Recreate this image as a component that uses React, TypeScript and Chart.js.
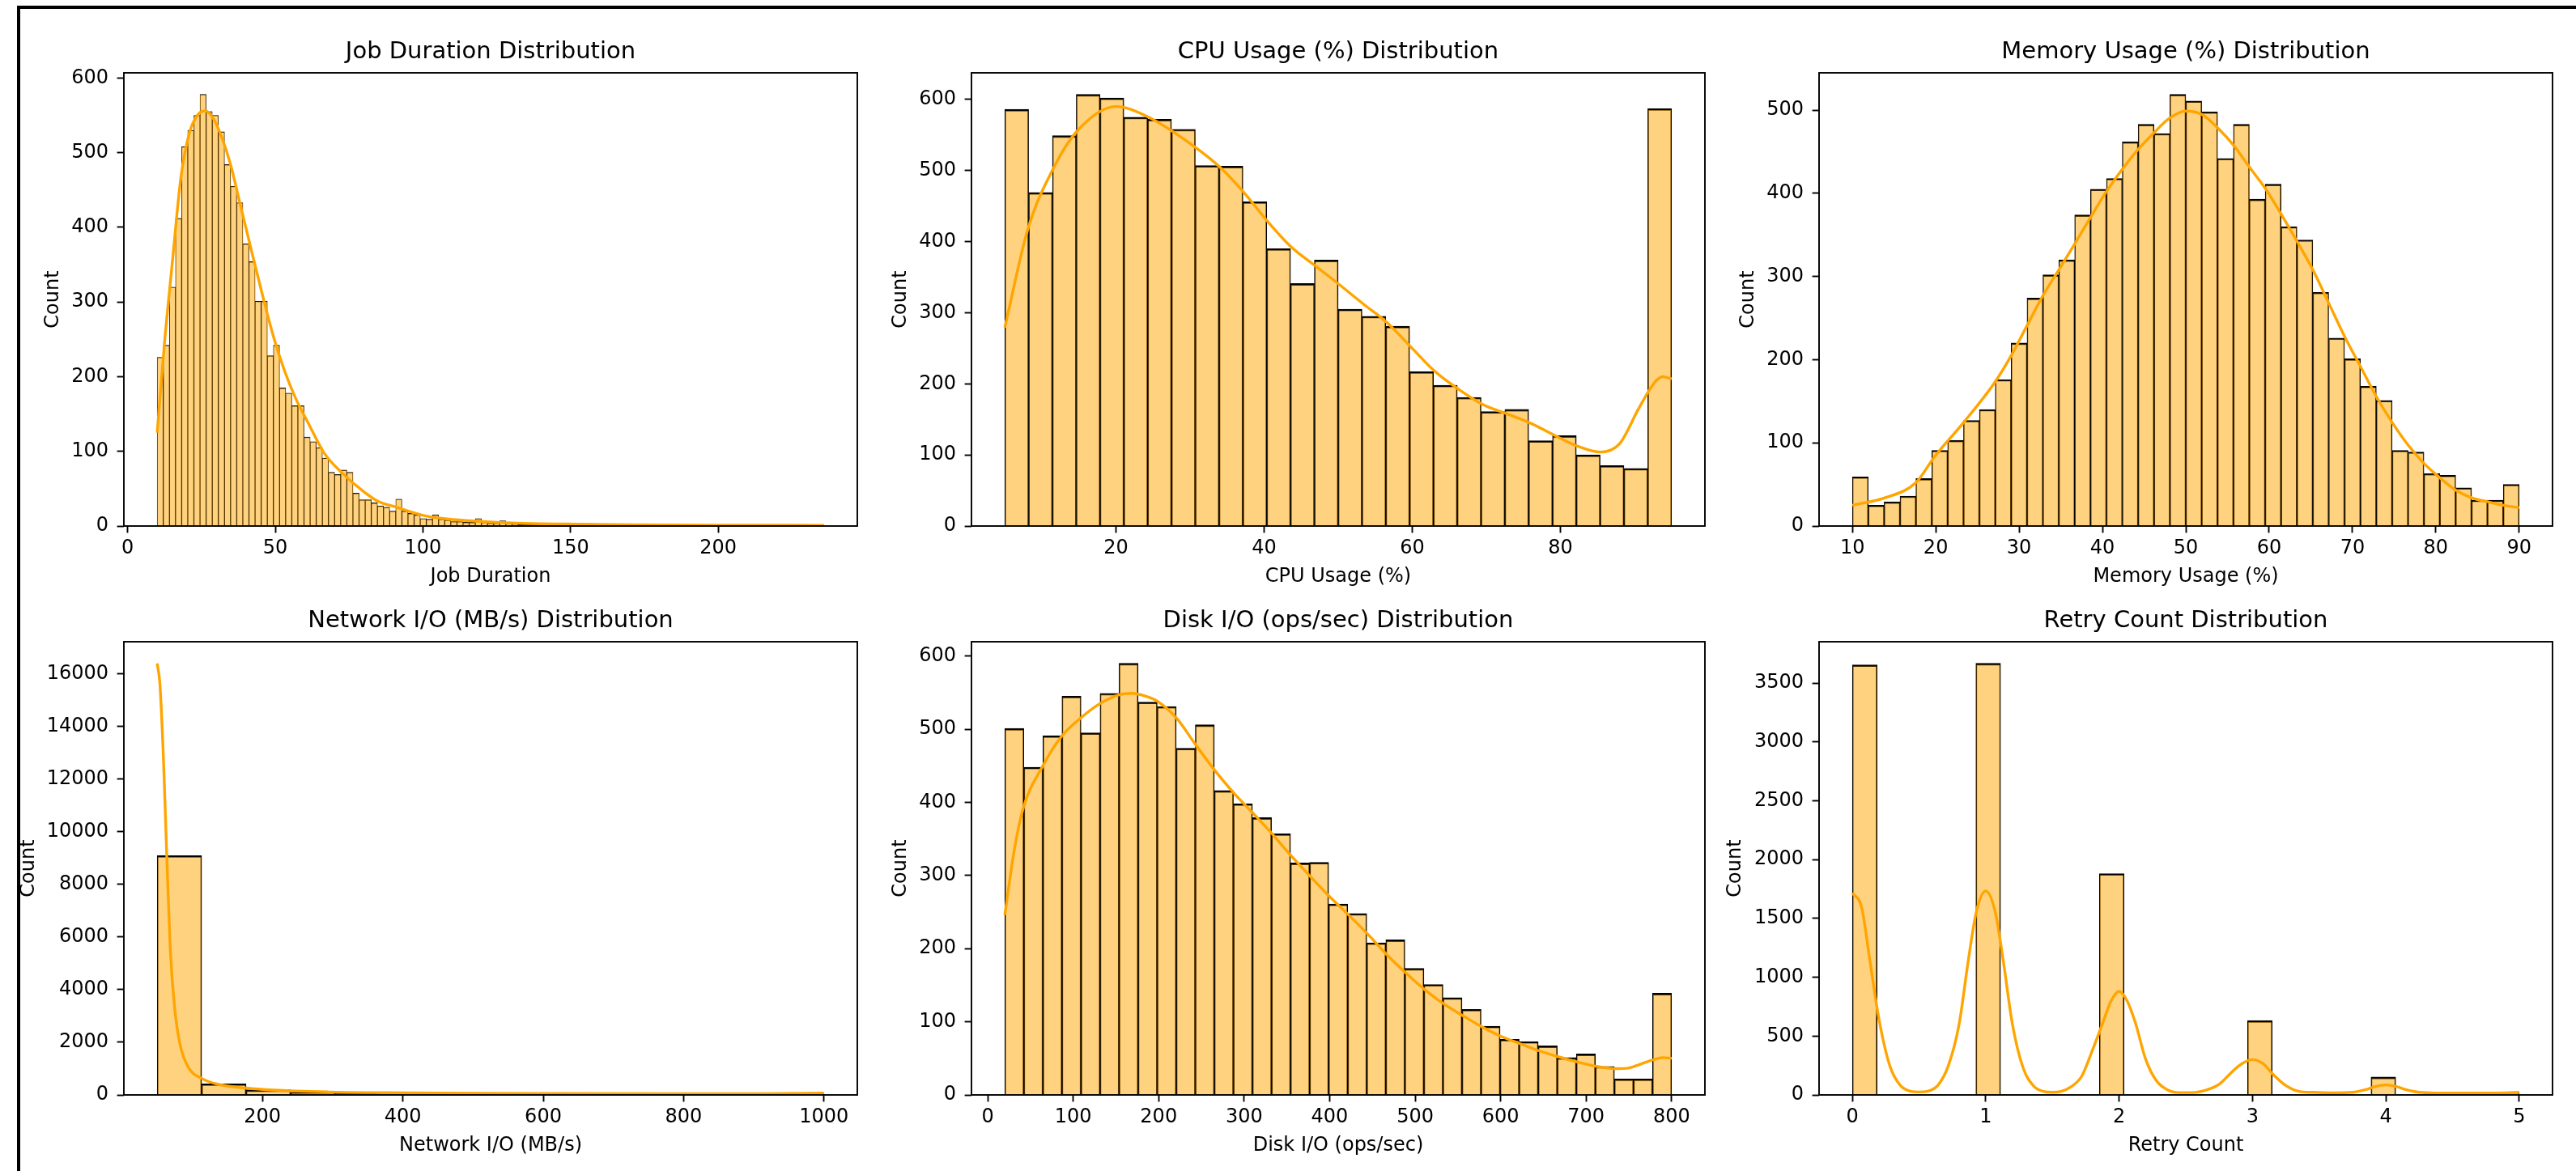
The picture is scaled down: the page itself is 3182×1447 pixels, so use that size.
import React, { useEffect, useRef } from "react";
import { Chart, registerables } from "chart.js";

Chart.register(...registerables);

const FONT = "'DejaVu Sans', 'Liberation Sans', sans-serif";

// ---------------- Job Duration ----------------
const JOB_BIN_RANGE = [10, 235.8];
const JOB_COUNTS = [
  226, 242, 320, 412, 508, 530, 550, 578, 555, 550, 528, 484, 455, 433, 378, 354, 301, 301, 228, 242, 185, 178, 161, 161,
  119, 113, 105, 91, 72, 69, 75, 72, 44, 35, 35, 31, 27, 25, 20, 36, 20, 17, 15, 10, 9, 15, 9, 8, 6, 6, 5, 5, 10, 5, 4, 4, 7, 4, 3, 2, 2, 2,
  2, 4, 2, 1, 1, 2, 1, 1, 3, 2, 1, 1, 0, 1, 1, 0, 1, 0, 1, 2, 0, 1, 0, 0, 1, 0, 1, 0, 0, 1, 0, 0, 0, 1, 0, 0, 0, 0, 0, 0, 0, 1, 0, 0, 0, 0, 1,
];
const JOB_KDE_X = [10, 12.4, 15.2, 18, 20.8, 23.6, 26.3, 29.1, 31.9, 34.7, 38.4, 42.1, 45.8, 49.5, 53.2, 57, 61, 66.5, 72.9, 79.3, 84.8, 91.2, 95.8, 100.4, 106.8, 116, 125, 134.3, 152.6, 170.9, 198, 235.8];
const JOB_KDE_Y = [125, 242, 356, 466, 525, 550, 556, 545, 520, 486, 426, 366, 307, 252, 207, 170, 139, 98, 70, 48, 33, 25, 19, 14, 10, 7, 5, 3.6, 2.5, 1.8, 1.2, 1];
const JOB_X_TICKS = [0, 50, 100, 150, 200];
const JOB_Y_TICKS = [0, 100, 200, 300, 400, 500, 600];

// ---------------- CPU Usage ----------------
const CPU_BIN_RANGE = [5, 95];
const CPU_COUNTS = [586, 469, 549, 607, 602, 575, 572, 558, 507, 506, 456, 390, 341, 374, 305, 295, 281, 217, 198, 181, 161, 164, 120, 127, 100, 85, 81, 587];
const CPU_KDE_X = [5, 8.1, 11.7, 14.8, 20, 24.4, 30.8, 34, 37.2, 40.5, 43.7, 46.9, 50.1, 53.3, 56.6, 59.8, 63, 66.3, 69.5, 72.7, 75.9, 79.1, 82.4, 85.4, 88, 90.6, 92.8, 93.8, 95];
const CPU_KDE_Y = [279, 417, 506, 556, 590, 575, 532, 505, 470, 428, 392, 366, 340, 313, 286, 252, 218, 192, 171, 158, 145, 128, 112, 104, 116, 166, 203, 210, 207];
const CPU_X_TICKS = [20, 40, 60, 80];
const CPU_Y_TICKS = [0, 100, 200, 300, 400, 500, 600];

// ---------------- Memory Usage ----------------
const MEM_BIN_RANGE = [10, 90];
const MEM_COUNTS = [
  59, 25, 29, 36, 57, 91, 103, 127, 140, 176, 220, 274, 302, 320, 374, 405, 418, 462, 483, 472,
  519, 511, 498, 442, 483, 393, 411, 360, 344, 281, 226, 201, 168, 151, 91, 89, 63, 61, 46, 31, 31, 50,
];
const MEM_KDE_X = [10, 13.9, 17.6, 19.9, 23.3, 27.1, 29.0, 30.9, 32.8, 34.7, 36.6, 38.5, 40.4, 42.3, 44.2, 46.1, 48.0, 50.0, 51.9, 53.8, 55.8, 57.6, 59.6, 61.5, 63.3, 65.3, 67.2, 69.1, 71.0, 72.9, 74.8, 76.7, 78.6, 80.6, 82.4, 84.3, 86.3, 88.1, 90.0];
const MEM_KDE_Y = [25, 34, 52, 84, 124, 173, 204, 240, 276, 307, 338, 370, 401, 428, 452, 472, 490, 499, 495, 479, 457, 432, 405, 374, 343, 307, 267, 227, 191, 155, 124, 97, 75, 57, 43, 34, 29, 25, 22];
const MEM_X_TICKS = [10, 20, 30, 40, 50, 60, 70, 80, 90];
const MEM_Y_TICKS = [0, 100, 200, 300, 400, 500];

// ---------------- Network I/O ----------------
const NET_BIN_RANGE = [50, 1000];
const NET_COUNTS = [9100, 423, 197, 95, 60, 40, 28, 22, 18, 14, 12, 10, 9, 8, 40];
const NET_KDE_X = [50, 53.9, 59.3, 64, 68.7, 74.9, 82.7, 94.4, 114, 137.4, 176.4, 215.4, 293.5, 371.5, 449.6, 605.7, 761.8, 917.9, 1000];
const NET_KDE_Y = [16408, 15606, 12500, 8800, 5500, 3300, 1900, 1050, 620, 400, 260, 183, 113, 85, 70, 56, 50, 50, 70];
const NET_X_TICKS = [200, 400, 600, 800, 1000];
const NET_Y_TICKS = [0, 2000, 4000, 6000, 8000, 10000, 12000, 14000, 16000];

// ---------------- Disk I/O ----------------
const DISK_BIN_RANGE = [20, 800];
const DISK_COUNTS = [
  501, 448, 491, 545, 495, 549, 590, 537, 531, 474, 506, 416, 398, 379, 357, 317, 318, 261, 248, 208,
  212, 173, 151, 133, 117, 94, 76, 73, 67, 51, 56, 39, 22, 22, 139,
];
const DISK_KDE_X = [20, 31.4, 41.8, 64.1, 86.3, 108.5, 131.4, 153.6, 168.6, 185, 198.7, 220.9, 243.1, 265.4, 287.6, 310.5, 332.7, 354.9, 377.1, 400, 422.2, 444.4, 466.7, 488.9, 511.1, 534, 556.2, 578.4, 600.7, 622.9, 645.8, 668, 690.2, 712.4, 734.6, 750.3, 763.4, 778.4, 789.5, 800];
const DISK_KDE_Y = [246, 337, 393, 449, 490, 515, 535, 547, 549, 545, 538, 515, 479, 444, 413, 385, 357, 327, 299, 271, 246, 220, 192, 167, 144, 124, 108, 93, 80, 70, 60, 52, 45, 39, 36, 37, 42, 48, 51, 50];
const DISK_X_TICKS = [0, 100, 200, 300, 400, 500, 600, 700, 800];
const DISK_Y_TICKS = [0, 100, 200, 300, 400, 500, 600];

// ---------------- Retry Count ----------------
const RETRY_BIN_RANGE = [0, 5];
const RETRY_COUNTS = [3655, 0, 0, 0, 0, 3668, 0, 0, 0, 0, 1881, 0, 0, 0, 0, 0, 632, 0, 0, 0, 0, 152, 0, 0, 0, 0, 25];
const RETRY_KDE_X = [0, 0.07, 0.13, 0.2, 0.28, 0.36, 0.44, 0.5, 0.56, 0.64, 0.72, 0.8, 0.87, 0.93, 1.0, 1.07, 1.13, 1.2, 1.28, 1.36, 1.44, 1.5, 1.56, 1.64, 1.72, 1.8, 1.88, 1.94, 2.0, 2.06, 2.12, 2.2, 2.28, 2.36, 2.45, 2.55, 2.65, 2.75, 2.85, 2.92, 3.0, 3.08, 3.15, 3.25, 3.35, 3.45, 3.6, 3.75, 3.85, 3.92, 4.0, 4.08, 4.15, 4.25, 4.4, 4.6, 4.8, 5.0];
const RETRY_KDE_Y = [1717, 1590, 1150, 640, 250, 80, 30, 25, 30, 80, 250, 600, 1150, 1560, 1733, 1560, 1150, 600, 230, 75, 28, 22, 28, 70, 160, 380, 620, 800, 880, 800, 620, 300, 120, 45, 20, 20, 40, 90, 200, 265, 300, 265, 180, 80, 30, 22, 18, 22, 45, 72, 85, 72, 45, 22, 16, 15, 16, 22];
const RETRY_X_TICKS = [0, 1, 2, 3, 4, 5];
const RETRY_Y_TICKS = [0, 500, 1000, 1500, 2000, 2500, 3000, 3500];

type PanelCfg = {
  title: string;
  xLabel: string;
  binRange: number[];
  counts: number[];
  kdeX: number[];
  kdeY: number[];
  xTicks: number[];
  yTicks: number[];
  plotLeft: number;
  plotTop: number;
  edge: number;
  yTitlePad: number;
};

const PLOT_W = 906;
const PLOT_H = 560;
const LEFT_SPACE = 154;
const TOP_SPACE = 60;
const BOTTOM_SPACE = 100;

const PANELS: PanelCfg[] = [
  { title: "Job Duration Distribution", xLabel: "Job Duration", binRange: JOB_BIN_RANGE, counts: JOB_COUNTS, kdeX: JOB_KDE_X, kdeY: JOB_KDE_Y, xTicks: JOB_X_TICKS, yTicks: JOB_Y_TICKS, plotLeft: 153, plotTop: 90, edge: 0.75, yTitlePad: 52.4 },
  { title: "CPU Usage (%) Distribution", xLabel: "CPU Usage (%)", binRange: CPU_BIN_RANGE, counts: CPU_COUNTS, kdeX: CPU_KDE_X, kdeY: CPU_KDE_Y, xTicks: CPU_X_TICKS, yTicks: CPU_Y_TICKS, plotLeft: 1200, plotTop: 90, edge: 2.2, yTitlePad: 52.4 },
  { title: "Memory Usage (%) Distribution", xLabel: "Memory Usage (%)", binRange: MEM_BIN_RANGE, counts: MEM_COUNTS, kdeX: MEM_KDE_X, kdeY: MEM_KDE_Y, xTicks: MEM_X_TICKS, yTicks: MEM_Y_TICKS, plotLeft: 2247, plotTop: 90, edge: 1.9, yTitlePad: 52.4 },
  { title: "Network I/O (MB/s) Distribution", xLabel: "Network I/O (MB/s)", binRange: NET_BIN_RANGE, counts: NET_COUNTS, kdeX: NET_KDE_X, kdeY: NET_KDE_Y, xTicks: NET_X_TICKS, yTicks: NET_Y_TICKS, plotLeft: 153, plotTop: 793, edge: 2.2, yTitlePad: 22.6 },
  { title: "Disk I/O (ops/sec) Distribution", xLabel: "Disk I/O (ops/sec)", binRange: DISK_BIN_RANGE, counts: DISK_COUNTS, kdeX: DISK_KDE_X, kdeY: DISK_KDE_Y, xTicks: DISK_X_TICKS, yTicks: DISK_Y_TICKS, plotLeft: 1200, plotTop: 793, edge: 2.2, yTitlePad: 52.4 },
  { title: "Retry Count Distribution", xLabel: "Retry Count", binRange: RETRY_BIN_RANGE, counts: RETRY_COUNTS, kdeX: RETRY_KDE_X, kdeY: RETRY_KDE_Y, xTicks: RETRY_X_TICKS, yTicks: RETRY_Y_TICKS, plotLeft: 2247, plotTop: 793, edge: 2.2, yTitlePad: 36.1 },
];

const framePlugin = {
  id: "frame",
  afterDatasetsDraw(chart: any) {
    const { ctx, chartArea: a } = chart;
    ctx.save();
    ctx.strokeStyle = "#000";
    ctx.lineWidth = 1.9;
    ctx.strokeRect(a.left, a.top, a.right - a.left, a.bottom - a.top);
    ctx.restore();
  },
};

function Panel({ cfg }: { cfg: PanelCfg }) {
  const ref = useRef<HTMLCanvasElement>(null);
  const width = LEFT_SPACE * 2 + PLOT_W;
  const height = TOP_SPACE + PLOT_H + BOTTOM_SPACE;

  useEffect(() => {
    if (!ref.current) return;
    const [lo, hi] = cfg.binRange;
    const n = cfg.counts.length;
    const bw = (hi - lo) / n;
    const bars = cfg.counts.map((c, i) => ({ x: lo + (i + 0.5) * bw, y: c }));
    const kde = cfg.kdeX.map((x, i) => ({ x, y: cfg.kdeY[i] }));
    const span = hi - lo;
    const xMin = lo - 0.05 * span;
    const xMax = hi + 0.05 * span;
    const yMax = 1.05 * Math.max(...cfg.counts, ...cfg.kdeY);
    const e = cfg.edge;

    const tickGrid = {
      display: true,
      drawOnChartArea: false,
      drawTicks: true,
      tickLength: 8.4,
      tickWidth: 1.9,
      tickColor: "#000",
      offset: false,
    };

    const chart = new Chart(ref.current, {
      type: "bar",
      data: {
        datasets: [
          {
            type: "line",
            data: kde,
            borderColor: "#FFA500",
            borderWidth: 3.4,
            pointRadius: 0,
            cubicInterpolationMode: "monotone",
            fill: false,
            order: 0,
          } as any,
          {
            type: "bar",
            data: bars,
            backgroundColor: "rgba(255,165,0,0.5)",
            borderColor: "#000",
            borderWidth: { left: e / 2, right: e / 2, top: e, bottom: 0 },
            borderSkipped: false,
            barPercentage: 1,
            categoryPercentage: 1,
            grouped: false,
            order: 1,
          } as any,
        ],
      },
      options: {
        responsive: false,
        maintainAspectRatio: false,
        animation: false,
        devicePixelRatio: 1,
        layout: { padding: { top: TOP_SPACE - 43.4, left: 0, right: 0, bottom: 0 }, autoPadding: false } as any,
        plugins: {
          legend: { display: false },
          tooltip: { enabled: false },
          title: {
            display: true,
            text: cfg.title,
            color: "#000",
            font: { family: FONT, size: 29, weight: "normal", lineHeight: 1.2 } as any,
            padding: { top: 0, bottom: 8.6 },
          },
        },
        scales: {
          x: {
            type: "linear",
            min: xMin,
            max: xMax,
            offset: false,
            grid: tickGrid as any,
            border: { display: false },
            ticks: {
              color: "#000",
              font: { family: FONT, size: 24 },
              padding: 5.2,
              maxRotation: 0,
              autoSkip: false,
              callback: (v: any) => String(v),
            },
            afterBuildTicks: (s: any) => {
              s.ticks = cfg.xTicks.map((v) => ({ value: v }));
            },
            afterFit: (s: any) => {
              s.height = BOTTOM_SPACE;
            },
            title: {
              display: true,
              text: cfg.xLabel,
              color: "#000",
              font: { family: FONT, size: 24 },
              padding: { top: 0, bottom: 22.9 },
            },
          } as any,
          y: {
            type: "linear",
            position: "left",
            min: 0,
            max: yMax,
            grid: tickGrid as any,
            border: { display: false },
            ticks: {
              color: "#000",
              font: { family: FONT, size: 24 },
              padding: 10.6,
              autoSkip: false,
              callback: (v: any) => String(v),
            },
            afterBuildTicks: (s: any) => {
              s.ticks = cfg.yTicks.map((v) => ({ value: v }));
            },
            afterFit: (s: any) => {
              s.width = LEFT_SPACE;
            },
            title: {
              display: true,
              text: "Count",
              color: "#000",
              font: { family: FONT, size: 24 },
              padding: { top: cfg.yTitlePad, bottom: 0 },
            },
          } as any,
          y2: {
            type: "linear",
            position: "right",
            display: true,
            grid: { display: false, drawTicks: false },
            border: { display: false },
            ticks: { display: false },
            afterFit: (s: any) => {
              s.width = LEFT_SPACE;
            },
          } as any,
        },
      },
      plugins: [framePlugin],
    });
    return () => chart.destroy();
  }, [cfg]);

  return (
    <canvas
      ref={ref}
      width={width}
      height={height}
      style={{
        position: "absolute",
        left: cfg.plotLeft - LEFT_SPACE,
        top: cfg.plotTop - TOP_SPACE,
        width,
        height,
      }}
    />
  );
}

export default function App() {
  return (
    <div
      style={{
        position: "fixed",
        left: 0,
        top: 0,
        width: 3182,
        height: 1447,
        overflow: "hidden",
        background: "#fff",
      }}
    >
      {PANELS.map((p, i) => (
        <Panel key={i} cfg={p} />
      ))}
      <div
        style={{
          position: "absolute",
          left: 21,
          top: 7,
          width: 3300,
          height: 1600,
          borderTop: "4.5px solid #000",
          borderLeft: "4.5px solid #000",
          pointerEvents: "none",
        }}
      />
    </div>
  );
}
